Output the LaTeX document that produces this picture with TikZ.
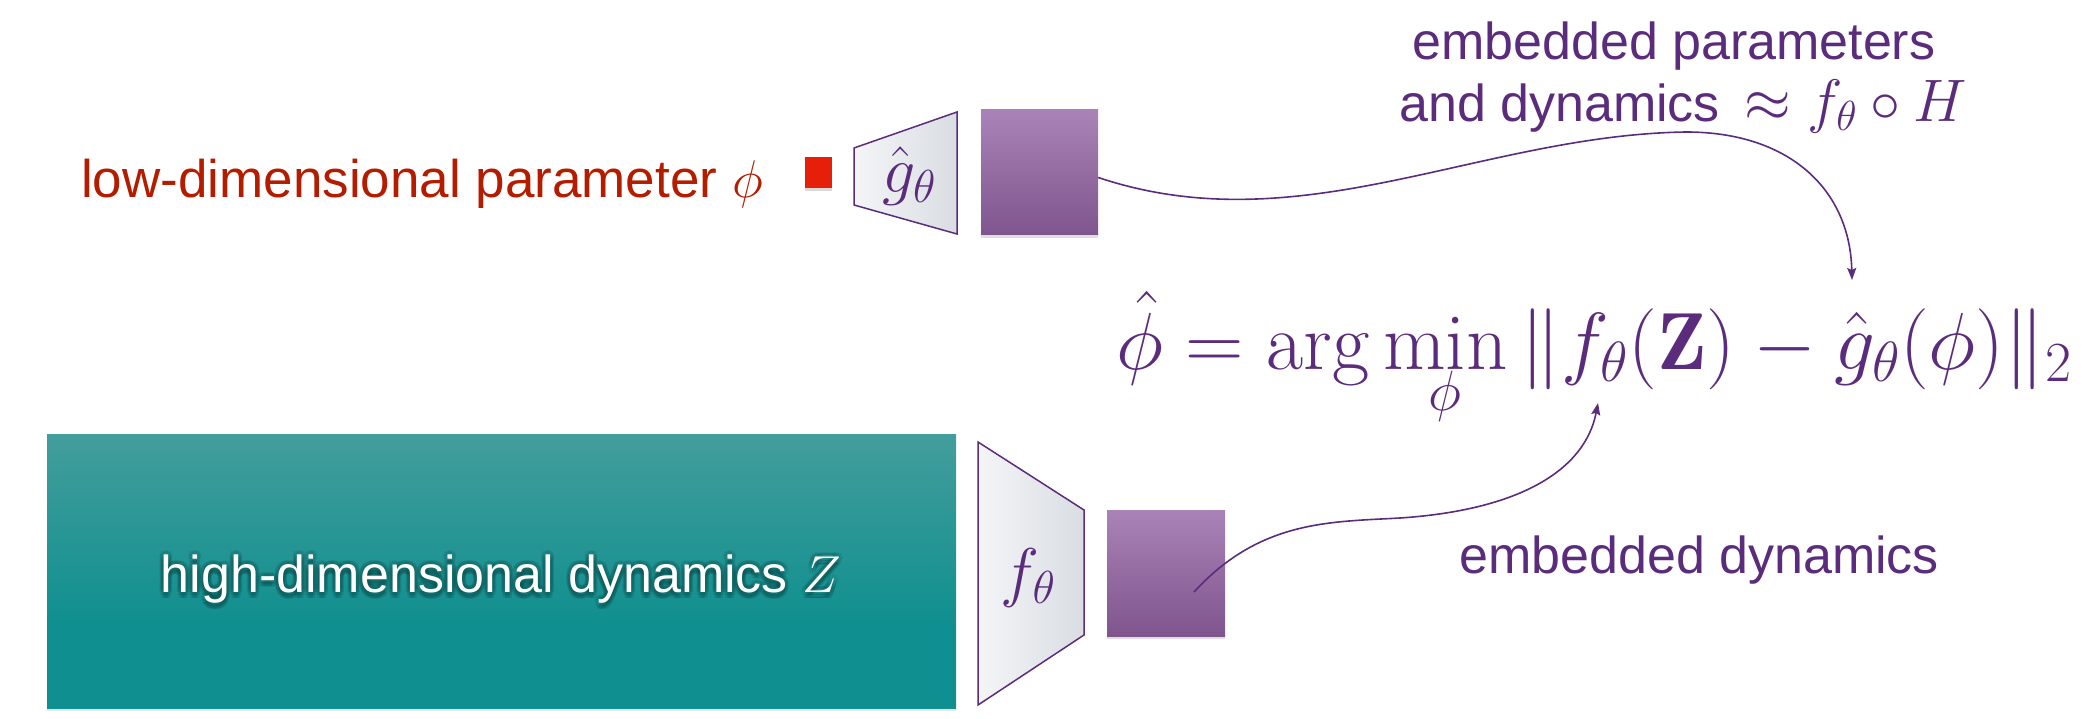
\RequirePackage{fix-cm}
\documentclass[tikz,border=0pt]{standalone}
\usepackage{fontspec}
\usetikzlibrary{shadows,arrows.meta}
\newfontfamily\lab{Liberation Sans}
\definecolor{purp}{HTML}{5B2C7C}
\definecolor{redt}{HTML}{B41C00}
\definecolor{redsq}{HTML}{E61F0A}
\definecolor{tealT}{HTML}{68A8A5}
\definecolor{tealB}{HTML}{0F8F8F}
\definecolor{tealD}{HTML}{0A4848}
\definecolor{purT}{HTML}{BF9ACE}
\definecolor{purB}{HTML}{693E77}
\definecolor{trapL}{HTML}{F4F5F7}
\definecolor{trapR}{HTML}{D9DDE2}
\pgfdeclareverticalshading{tealsh}{100bp}{color(0bp)=(tealB); color(40bp)=(tealB); color(100bp)=(tealT)}
\pgfdeclareverticalshading{pursh}{100bp}{color(0bp)=(purB); color(100bp)=(purT)}
\begin{document}
\begin{tikzpicture}[x=1pt,y=-1pt,
  sans/.style={font=\lab\fontsize{52}{60}\selectfont, inner sep=0pt},
  mathlbl/.style={font=\fontsize{66}{66}\selectfont, inner sep=0pt, text=purp},
  embbox/.style={shading=pursh, minimum width=118pt, minimum height=126pt, inner sep=0pt,
    drop shadow={shadow xshift=0pt, shadow yshift=-3pt, opacity=0.25}},
  trap/.style={left color=trapL, right color=trapR, draw=purp, line width=1.5pt, line join=miter},
  conn/.style={draw=purp, line width=1.6pt, -{Stealth[length=12pt,width=9pt,inset=2pt]}}
]
\useasboundingbox (0,0) rectangle (2096,719);

% low-dimensional parameter
\node[sans, font=\lab\fontsize{53}{60}\selectfont, text=redt, anchor=base east] (lowtxt) at (763,198) {low-dimensional parameter $\phi$};
\node[fill=redsq, minimum width=27pt, minimum height=31pt, inner sep=0pt,
  drop shadow={shadow xshift=0pt, shadow yshift=-3pt, opacity=0.3}] (phisq) at (818.5,172.5) {};

% g trapezoid
\path[trap] (854,148) -- (957,112) -- (957,234) -- (854,205) -- cycle;
\node[mathlbl, anchor=base] (glbl) at (909,193) {$\hat g_\theta$};

% top embedding box
\node[embbox, minimum width=117pt, minimum height=125pt] (pb1) at (1039.5,172.5) {};

% high-dimensional dynamics box
\node[shading=tealsh, minimum width=909pt, minimum height=274pt, inner sep=0pt,
  drop shadow={shadow xshift=0pt, shadow yshift=-3pt, opacity=0.2}] (hd) at (501.5,571) {};
\foreach \dx/\dy in {4/0,-4/0,0/4,0/-4,3/3,-3/3,3/-3,-3/-3,0/6,2/6,-2/6}{
  \node[sans, text=tealD, opacity=0.18, anchor=base] at (501+\dx,592+\dy) {high-dimensional dynamics $Z$};
}
\node[sans, text=white, anchor=base] (hdtxt) at (501,592) {high-dimensional dynamics $Z$};

% f trapezoid
\path[trap] (978,442) -- (1084,510) -- (1084,635) -- (978,705) -- cycle;
\node[mathlbl, anchor=base] (flbl) at (1028,594) {$f_\theta$};

% bottom embedding box
\node[embbox] (pb2) at (1166,573) {};

% equation
\node[font=\fontsize{81}{81}\selectfont, text=purp, inner sep=0pt, anchor=base] (eq) at (1594,369)
  {$\hat\phi=\arg\min\limits_{\phi}\|f_\theta(\mathbf{Z})-\hat g_\theta(\phi)\|_2$};

% labels
\node[sans, text=purp, anchor=base west] (ep1) at (1412,60) {embedded parameters};
\node[sans, text=purp, anchor=base west] (ep2) at (1399,122)
  {and dynamics\hspace{24pt}{\fontsize{60}{60}\selectfont$\approx f_\theta\circ H$}};
\node[sans, text=purp, anchor=base west] (ed) at (1459,573) {embedded dynamics};

% connectors
\coordinate (t1) at (1852,280);
\coordinate (s2) at (1194,592);
\coordinate (t2) at (1598,403);
\draw[conn] ([yshift=-5pt]pb1.east) .. controls (1300,245) and (1480,135) .. (1686,132)
  .. controls (1790,132) and (1850,190) .. (t1);
\draw[conn] (s2) .. controls (1260,520) and (1330,522) .. (1400,518)
  .. controls (1520,510) and (1585,470) .. (t2);
\end{tikzpicture}
\end{document}
